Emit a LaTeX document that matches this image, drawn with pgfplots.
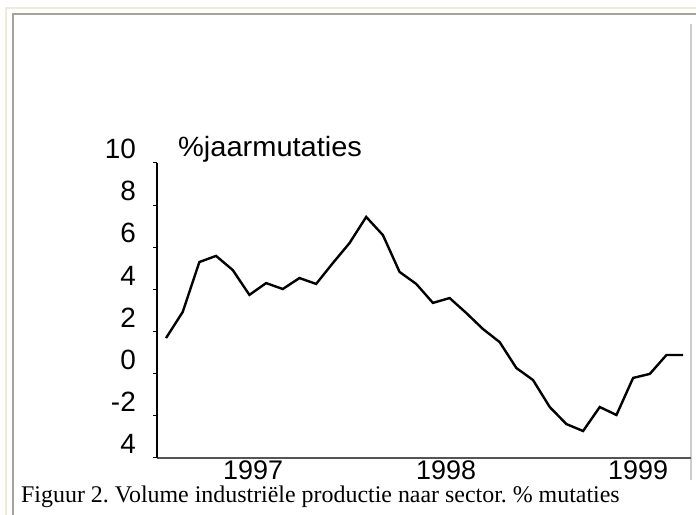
\documentclass[border=0pt]{standalone}
\usepackage{fontspec}
\setmainfont{Liberation Sans}
\newfontfamily\capfont{Liberation Serif}
\usepackage{pgfplots}
\pgfplotsset{compat=1.18}
\definecolor{beige}{RGB}{238,235,218}
\definecolor{framegrey}{RGB}{165,163,155}
\definecolor{lightgrey}{RGB}{205,205,205}
\definecolor{axgrey}{RGB}{85,85,85}
\frenchspacing
\begin{document}
\begin{tikzpicture}[x=1bp,y=1bp]
\useasboundingbox (0,0) rectangle (696,515);
\fill[white] (0,0) rectangle (696,515);
\draw[beige, line width=2bp] (6,0) -- (6,507) -- (696,507);
\draw[framegrey, line width=2bp] (13,0) -- (13,501) -- (696,501);
\draw[lightgrey, line width=1.5bp] (691,35) -- (691,491);
\begin{axis}[
  at={(157bp,57bp)}, anchor=south west,
  scale only axis, width=534bp, height=295bp,
  xmin=-0.54, xmax=31.47, ymin=-4, ymax=10,
  axis x line=bottom, axis y line=left,
  axis line style={-},
  x axis line style={line width=2bp, axgrey},
  y axis line style={line width=1.4bp, black},
  ytick={-4,-2,0,2,4,6,8,10},
  yticklabels={4,-2,0,2,4,6,8,10},
  xtick={5.22,16.79,28.30},
  xticklabels={1997,1998,1999},
  xtick style={draw=none},
  ytick style={black, line width=1bp},
  major tick length=4bp,
  tick align=outside,
  ytick pos=left,
  yticklabel style={font=\fontsize{28}{28}\selectfont, anchor=east, inner sep=0pt, xshift=-17bp, yshift=14bp},
  xticklabel style={font=\fontsize{27}{27}\selectfont, anchor=north, inner sep=0pt, yshift=1bp},
]
\addplot[black, line width=2.4bp] coordinates {
(0,1.69) (1,2.93) (2,5.30) (3,5.59) (4,4.92) (5,3.74) (6,4.30) (7,4.02)
(8,4.54) (9,4.26) (10,5.25) (11,6.20) (12,7.44) (13,6.58) (14,4.83) (15,4.26)
(16,3.36) (17,3.59) (18,2.88) (19,2.12) (20,1.50) (21,0.27) (22,-0.30) (23,-1.58)
(24,-2.39) (25,-2.72) (26,-1.58) (27,-1.96) (28,-0.20) (29,-0.01) (30,0.89) (31,0.89)
};
\end{axis}
\node[anchor=base west, inner sep=0pt] at (178,358) {\fontsize{28}{28}\selectfont\scalebox{1.04}[1]{\%jaarmutaties}};
\node[anchor=base west, inner sep=0pt] at (21,12) {\capfont\fontsize{24}{24}\selectfont Figuur 2. Volume industriële productie naar sector. \% mutaties};
\end{tikzpicture}
\end{document}
